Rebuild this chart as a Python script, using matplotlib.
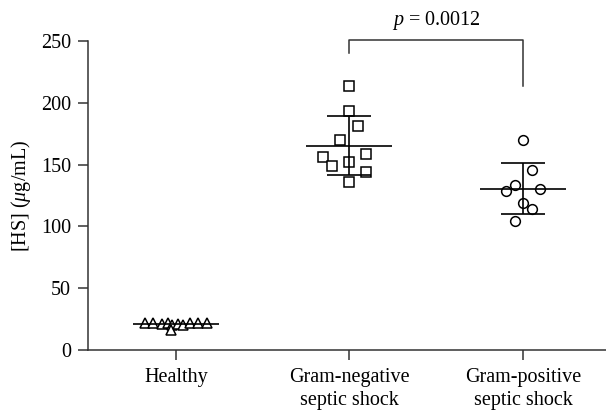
import numpy as np
import matplotlib; matplotlib.use("Agg")
import matplotlib.pyplot as plt

plt.rcParams["font.family"] = ["Liberation Serif", "DejaVu Serif"]
plt.rcParams["mathtext.fontset"] = "custom"
plt.rcParams["mathtext.rm"] = "Liberation Serif"
plt.rcParams["mathtext.it"] = "Liberation Serif:italic"

# ── data ──────────────────────────────────────────────────────────────────────
groups = ["Healthy", "Gram-negative\nseptic shock", "Gram-positive\nseptic shock"]

healthy     = [21.5, 21.5, 21.0, 21.5, 20.5, 16.0, 21.0, 20.5, 21.5, 22.0, 21.5]
healthy_dx  = [-0.18, -0.13, -0.08, -0.045, -0.02, -0.03, 0.01, 0.04, 0.08, 0.125, 0.18]

gram_neg    = [213.8, 193.4, 181.5, 170.2, 156.0, 149.2, 151.9, 158.4, 144.4, 136.2]
gram_neg_dx = [0.0, 0.0, 0.048, -0.052, -0.152, -0.102, 0.0, 0.096, 0.096, 0.0]

gram_pos    = [169.9, 145.6, 133.5, 128.6, 130.3, 118.7, 114.1, 104.6]
gram_pos_dx = [0.0, 0.05, -0.048, -0.1, 0.1, 0.0, 0.05, -0.048]

means = [21.0, 165.3, 130.5]
sd_lo = [21.0, 141.3, 110.0]
sd_hi = [21.0, 189.6, 151.0]

p_text = "$p$ = 0.0012"
FS = 14.5

# ── plot ──────────────────────────────────────────────────────────────────────
fig = plt.figure(figsize=(6.06, 4.11), dpi=100)
ax = fig.add_axes([0.145, 0.1484, 0.855, 0.7516])

series  = [(healthy, healthy_dx, "^"), (gram_neg, gram_neg_dx, "s"), (gram_pos, gram_pos_dx, "o")]
for i, (vals, dx, mk) in enumerate(series):
    x = i + 1
    ax.plot(np.array(dx) + x, vals, ls="none", marker=mk, ms=7, mfc="white",
            mec="black", mew=1.1, zorder=3)
    ax.hlines(means[i], x - 0.248, x + 0.248, color="black", lw=1.2, zorder=4)
    if sd_hi[i] > sd_lo[i]:
        ax.vlines(x, sd_lo[i], sd_hi[i], color="black", lw=1.2, zorder=4)
        ax.hlines([sd_lo[i], sd_hi[i]], x - 0.127, x + 0.127, color="black", lw=1.2, zorder=4)

# significance bracket
ax.plot([2, 2, 3, 3], [240, 250.8, 250.8, 214], color="#333333", lw=1.1, clip_on=False)
ax.text(2.5, 263, p_text, ha="center", va="baseline", fontsize=FS)

ax.set_xlim(0.493, 3.478)
ax.set_ylim(0, 250)
ax.set_yticks([0, 50, 100, 150, 200, 250])
ax.set_xticks([1, 2, 3])
ax.set_xticklabels(groups, fontsize=FS, linespacing=1.3)
ax.tick_params(axis="y", labelsize=FS, length=7, width=1.1, color="#333333", pad=5)
ax.tick_params(axis="x", length=7, width=1.1, color="#333333", pad=6)
ax.set_ylabel("[HS] ($\\mu$g/mL)", fontsize=FS, labelpad=6)
for s in ["top", "right"]:
    ax.spines[s].set_visible(False)
for s in ["left", "bottom"]:
    ax.spines[s].set_color("#333333")
    ax.spines[s].set_linewidth(1.1)

fig.savefig("out.png", dpi=100)
plt.close()
